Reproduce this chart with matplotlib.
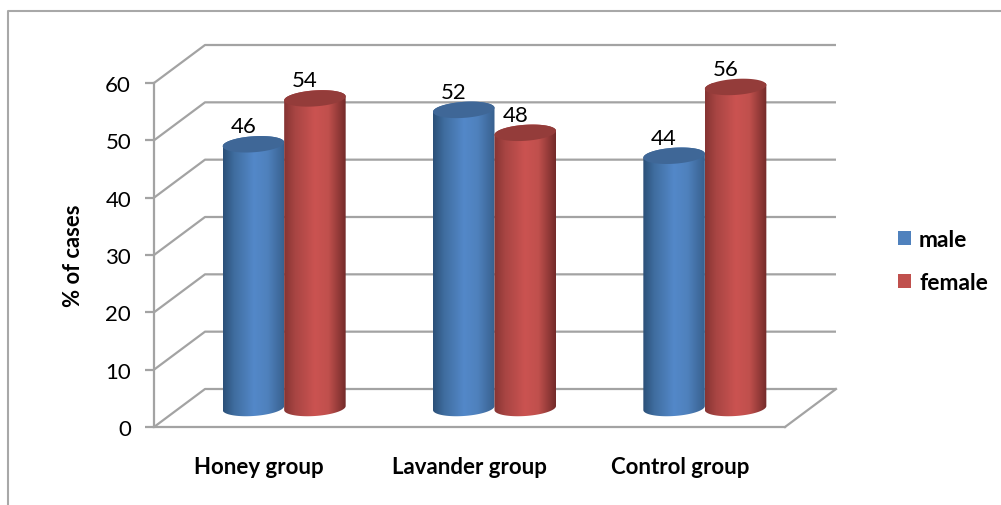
import numpy as np
import matplotlib
matplotlib.use("Agg")
import matplotlib.pyplot as plt
from matplotlib.patches import Polygon, Patch
from matplotlib.colors import LinearSegmentedColormap
from matplotlib.lines import Line2D

plt.rcParams["font.family"] = ["Lato", "DejaVu Sans"]

groups = ["Honey group", "Lavander group", "Control group"]
series_names = ["male", "female"]
male = [46, 52, 44]
female = [54, 48, 56]
y_ticks = [0, 10, 20, 30, 40, 50, 60]

W, H = 1001, 506
fig = plt.figure(figsize=(W / 100, H / 100), dpi=100, facecolor="white")

# Front plane of the 3D box, in pixels
left, right, y_bottom, y_top = 154, 785, 428, 84
ax = fig.add_axes([left / W, 1 - y_bottom / H, (right - left) / W, (y_bottom - y_top) / H])
ax.set_xlim(0, 3)
ax.set_ylim(0, 60)
ax.patch.set_visible(False)

px_x = 3 / (right - left)
px_y = 60 / (y_bottom - y_top)
depth_x, depth_y = 51 * px_x, 38 * px_y
GRID = "#a3a3a3"

# Back wall, side wall and floor
for v in y_ticks:
    ax.plot([0, depth_x, 3 + depth_x], [v, v + depth_y, v + depth_y],
            color=GRID, lw=1.6, clip_on=False, zorder=1, solid_capstyle="butt")
ax.plot([3, 3 + depth_x], [0, depth_y], color=GRID, lw=1.6, clip_on=False, zorder=1)

for s in ("top", "right"):
    ax.spines[s].set_visible(False)
for s in ("left", "bottom"):
    ax.spines[s].set_color(GRID)
    ax.spines[s].set_linewidth(1.6)

ax.set_yticks(y_ticks)
ax.set_xticks(np.arange(3) + 0.5)
ax.set_xticklabels(groups, fontsize=16, fontweight="bold", color="black")
ax.tick_params(axis="x", length=0, pad=21)
ax.tick_params(axis="y", length=6.5, width=1.6, color=GRID, labelsize=16, pad=10, labelcolor="black")
ax.set_ylabel("% of cases", fontsize=15.8, fontweight="bold", labelpad=15)

bar_w = 61.5 * px_x
half_h = 8.0 * px_y
tilt = 2.0 * px_y

blue_cm = LinearSegmentedColormap.from_list(
    "blue_side", [(0, "#2b5078"), (0.18, "#3f6d9f"), (0.5, "#5388c9"), (0.72, "#4f81bd"), (1, "#38608e")])
red_cm = LinearSegmentedColormap.from_list(
    "red_side", [(0, "#863433"), (0.18, "#a84543"), (0.5, "#cb5351"), (0.72, "#c0504d"), (1, "#742b2a")])
TOP_COLORS = {"male": "#3f6797", "female": "#943c3a"}
SWATCH = {"male": "#4f81bd", "female": "#c0504d"}


def rim(xc, yc, t):
    """Points on the slightly tilted elliptical rim of a cylinder."""
    return (xc + bar_w / 2 * np.cos(t),
            yc + half_h * np.sin(t) + tilt * np.cos(t))


def cylinder(xc, value, cmap, top_color, z):
    base = depth_y / 2
    top = base + value
    t_low = np.linspace(np.pi, 2 * np.pi, 60)
    t_up = np.linspace(0, np.pi, 60)
    bx, by = rim(xc, base, t_low)
    ux, uy = rim(xc, top, t_up)
    body = Polygon(np.column_stack([np.r_[bx, ux], np.r_[by, uy]]),
                   closed=True, transform=ax.transData, fc="none", ec="none")
    ax.add_patch(body)
    grad = np.linspace(0, 1, 128).reshape(1, -1)
    im = ax.imshow(grad, cmap=cmap, aspect="auto", zorder=z, interpolation="bilinear",
                   extent=[xc - bar_w / 2, xc + bar_w / 2, base - half_h * 2, top + half_h * 2])
    im.set_clip_path(body)
    t = np.linspace(0, 2 * np.pi, 120)
    ex, ey = rim(xc, top, t)
    ax.fill(ex, ey, color=top_color, lw=0, zorder=z + 0.1, clip_on=False)
    ax.text(xc - 10 * px_x, top + 18 * px_y, str(value), ha="center", va="center",
            fontsize=16, color="black", zorder=z + 0.2, clip_on=False)


positions = np.arange(3) + 0.5 + (depth_x - 1.0 * px_x) / 2
for i, pos in enumerate(positions):
    cylinder(pos - bar_w / 2, male[i], blue_cm, TOP_COLORS["male"], 3)
    cylinder(pos + bar_w / 2, female[i], red_cm, TOP_COLORS["female"], 4)

ax.set_xlim(0, 3)
ax.set_ylim(0, 60)

handles = [Patch(fc=SWATCH[n], ec="none", label=n) for n in series_names]
fig.legend(handles=handles, loc="center left", bbox_to_anchor=(898 / W, 1 - 262 / H),
           frameon=False, borderpad=0, borderaxespad=0, handlelength=0.58, handleheight=0.58,
           handletextpad=0.34, labelspacing=0.98, prop={"size": 16.5, "weight": "bold"})

# Outer frame of the chart area (top and left edges only)
fig.add_artist(Line2D([7.5 / W, 7.5 / W, 1], [0, 1 - 11.5 / H, 1 - 11.5 / H],
                      color="#a8a8a8", lw=1.5, transform=fig.transFigure))

fig.savefig("out.png", dpi=100, facecolor="white")
